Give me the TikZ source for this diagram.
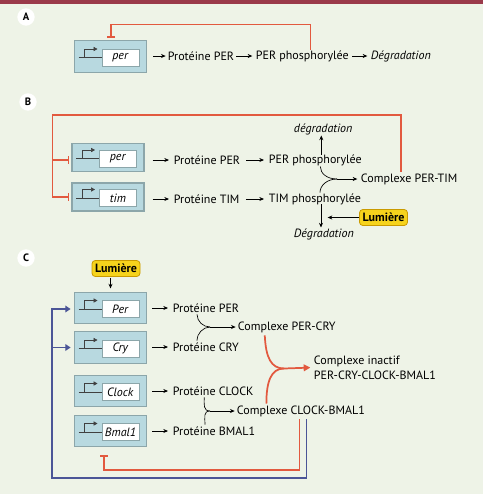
\documentclass[tikz,border=0pt]{standalone}
\usepackage{fontspec}
\setmainfont{PT Sans}
\usetikzlibrary{calc,arrows.meta}
\definecolor{bgc}{HTML}{EEF3E7}
\definecolor{topbar}{HTML}{9A3A4A}
\definecolor{boxfill}{HTML}{B8D9E0}
\definecolor{boxline}{HTML}{8CA6AA}
\definecolor{inhred}{HTML}{E2593F}
\definecolor{actblue}{HTML}{4B5597}
\definecolor{lumfill}{HTML}{F6D31C}
\definecolor{lumline}{HTML}{C99A00}
\newcommand{\gene}[5][]{%
  \node[genebox,#1] (#2) at (#3,#4) {};
  \node[geneinner] (#2t) at ($(#2.center)+(10,1)$) {\textit{#5}};
  \coordinate (#2a) at ($(#2.center)+(-32,1)$);
  \coordinate (#2b) at ($(#2.center)+(-26,1)$);
  \draw[prom] (#2a) -- (#2t.west |- #2a);
  \draw[prom,-{Triangle[length=3pt,width=3.2pt]}] (#2b) -- ++(0,-8.5) -- ++(13,0);
}
\begin{document}
\begin{tikzpicture}[x=0.75pt,y=-0.75pt,
  font=\fontsize{9}{11.25}\selectfont,
  genebox/.style={draw=boxline,fill=boxfill,line width=0.8pt,minimum width=54pt,minimum height=23.5pt,inner sep=0pt},
  geneinner/.style={draw=boxline,fill=white,line width=0.5pt,minimum width=28pt,minimum height=12.5pt,inner sep=0pt},
  prom/.style={line width=0.5pt,draw=black!75},
  txt/.style={inner sep=0.5pt,anchor=west},
  arr/.style={-{Stealth[length=3.5pt,width=3pt]},line width=0.5pt},
  inh/.style={draw=inhred,line width=1.1pt,-{Bar[width=6pt]}},
  act/.style={draw=actblue,line width=1.1pt,-{Triangle[length=4pt,width=5pt]}},
  lum/.style={draw=lumline,fill=lumfill,line width=0.6pt,rounded corners=2.5pt,font=\fontsize{9}{10}\selectfont\bfseries,minimum width=36pt,minimum height=12pt,inner sep=0.5pt},
  lab/.style={circle,fill=white,inner sep=0pt,minimum size=13pt,font=\fontsize{8}{9}\selectfont\bfseries}]
\fill[bgc] (0,0) rectangle (483,494);
\fill[topbar] (0,0) rectangle (483,3.5);
\useasboundingbox (0,0) rectangle (483,494);
% ---------------- A
\node[lab] (labA) at (26,17) {A};
\gene[minimum height=24.5pt]{perA}{110.5}{56.5}{per}
\node[txt] (protA) at (167,56) {Protéine PER};
\node[txt] (phosA) at (255,56) {PER phosphorylée};
\node[txt] (degA) at (370,56) {\textit{Dégradation}};
\draw[arr,shorten <=4.5pt,shorten >=1pt] (perA.east |- protA) -- (protA.west);
\draw[arr,shorten <=1pt,shorten >=2pt] (protA.east) -- (phosA.west);
\draw[arr,shorten <=2pt,shorten >=2pt] (phosA.east) -- (degA.west);
\draw[inh,shorten >=1.5pt] ($(phosA.north)+(8,0)$) |- ($(perA.north)+(0.5,-15)$) -- ($(perA.north)+(0.5,0)$);
% ---------------- B
\node[lab] (labB) at (28,102) {B};
\gene[minimum height=21pt]{perB}{108}{157.5}{per}
\gene[minimum height=21pt]{timB}{108}{197}{tim}
\node[txt] (protB) at (173,160) {Protéine PER};
\node[txt] (phosB) at (268,160) {PER phosphorylée};
\node[txt] (protTB) at (173,199) {Protéine TIM};
\node[txt] (timphos) at (268,199) {TIM phosphorylée};
\node[txt] (degup) at (293,129) {\textit{dégradation}};
\node[txt] (cplxB) at (360,179) {Complexe PER-TIM};
\node[txt] (degdown) at (293,234) {\textit{Dégradation}};
\node[lum] (lumB) at (383.5,217.5) {Lumière};
\draw[arr,shorten <=6pt,shorten >=3pt] (perB.east |- protB) -- (protB.west);
\draw[arr,shorten <=4pt,shorten >=3pt] (protB.east) -- (phosB.west);
\draw[arr,shorten <=6pt,shorten >=3pt] (timB.east |- protTB) -- (protTB.west);
\draw[arr,shorten <=4pt,shorten >=3pt] (protTB.east) -- (timphos.west);
\coordinate (u1) at ($(phosB.north)+(6,1)$);
\draw[arr] (u1) -- (u1 |- degup.south);
\coordinate (u2) at ($(timphos.south)+(6,-1)$);
\draw[arr] (u2) -- (u2 |- degdown.north);
\draw[arr,shorten >=5pt] (lumB.west) -- (lumB.west -| u2);
\coordinate (mB) at (337,179);
\draw[line width=0.5pt] ($(phosB.south)+(5,0)$) .. controls +(0,7) and (327,179) .. (mB);
\draw[line width=0.5pt] ($(timphos.north)+(5,0)$) .. controls +(0,-7) and (327,179) .. (mB);
\draw[arr,shorten >=2pt] (mB) -- (cplxB.west);
\coordinate (cB) at ($(perB.west)+(-19,-42.5)$);
\draw[inh,shorten >=1.5pt] ($(cplxB.north)+(-8,-1)$) |- (cB) |- ($(perB.west)+(0,2.5)$);
\draw[inh,shorten >=1.5pt] (cB) |- (timB.west);
% ---------------- C
\node[lab] (labC) at (26,258) {C};
\node[lum] (lumC) at (116,268.5) {Lumière};
\gene{perC}{110.5}{308}{Per}
\gene{cryC}{110.5}{347.5}{Cry}
\gene{clockC}{110.5}{391}{Clock}
\gene{bmalC}{110.5}{431}{Bmal1}
\draw[arr,shorten <=1pt,shorten >=2.5pt] (lumC.south -| perC.north) -- (perC.north);
\node[txt] (protPC) at (172,308) {Protéine PER};
\node[txt] (protCC) at (172,347) {Protéine CRY};
\node[txt] (protCLC) at (172,391) {Protéine CLOCK};
\node[txt] (protBC) at (172,431) {Protéine BMAL1};
\node[txt] (cplxPC) at (237,327) {Complexe PER-CRY};
\node[txt] (cplxCB) at (236,411) {Complexe CLOCK-BMAL1};
\node[txt,align=left] (inact) at (313,367.5) {Complexe inactif\\PER-CRY-CLOCK-BMAL1};
\draw[arr,shorten <=4pt,shorten >=3pt] (perC.east |- protPC) -- (protPC.west);
\draw[arr,shorten <=4pt,shorten >=3pt] (cryC.east |- protCC) -- (protCC.west);
\draw[arr,shorten <=4pt,shorten >=3pt] (clockC.east |- protCLC) -- (protCLC.west);
\draw[arr,shorten <=4pt,shorten >=3pt] (bmalC.east |- protBC) -- (protBC.west);
\coordinate (m1) at (210,327);
\draw[line width=0.5pt] ($(protPC.south)+(-9,1)$) .. controls +(0,7) and (203,327) .. (m1);
\draw[line width=0.5pt] ($(protCC.north)+(-9,-1)$) .. controls +(0,-7) and (203,327) .. (m1);
\draw[arr,shorten >=1pt] (m1) -- (cplxPC.west);
\coordinate (m2) at (210,411);
\draw[line width=0.5pt] ($(protCLC.south)+(-9,1)$) .. controls +(0,7) and (203,411) .. (m2);
\draw[line width=0.5pt] ($(protBC.north)+(-9,-1)$) .. controls +(0,-7) and (203,411) .. (m2);
\draw[arr,shorten >=1pt] (m2) -- (cplxCB.west);
\coordinate (m3) at (284,368.5);
\draw[draw=inhred,line width=1.3pt] ($(cplxPC.south)+(-22,2)$) .. controls +(1,22) and (271,368.5) .. (m3);
\draw[draw=inhred,line width=1.3pt] ($(cplxCB.north)+(-34.5,-1)$) .. controls +(0,-22) and (271,368.5) .. (m3);
\draw[draw=inhred,line width=1.3pt,-{Triangle[length=5pt,width=5pt]},shorten >=2pt] (m3) -- (inact.west);
\draw[inh,shorten >=6pt] ($(cplxCB.south)+(-1.5,2)$) |- ($(bmalC.south)+(-6.5,23)$) -- ($(bmalC.south)+(-6.5,0)$);
\coordinate (cC) at ($(bmalC.south)+(-58.5,31)$);
\draw[act,shorten >=2.5pt] ($(cplxCB.south)+(5.5,2)$) |- (cC) |- ($(perC.west)+(0,1)$);
\draw[act,shorten >=2.5pt] (cC) |- (cryC.west);
\end{tikzpicture}
\end{document}
